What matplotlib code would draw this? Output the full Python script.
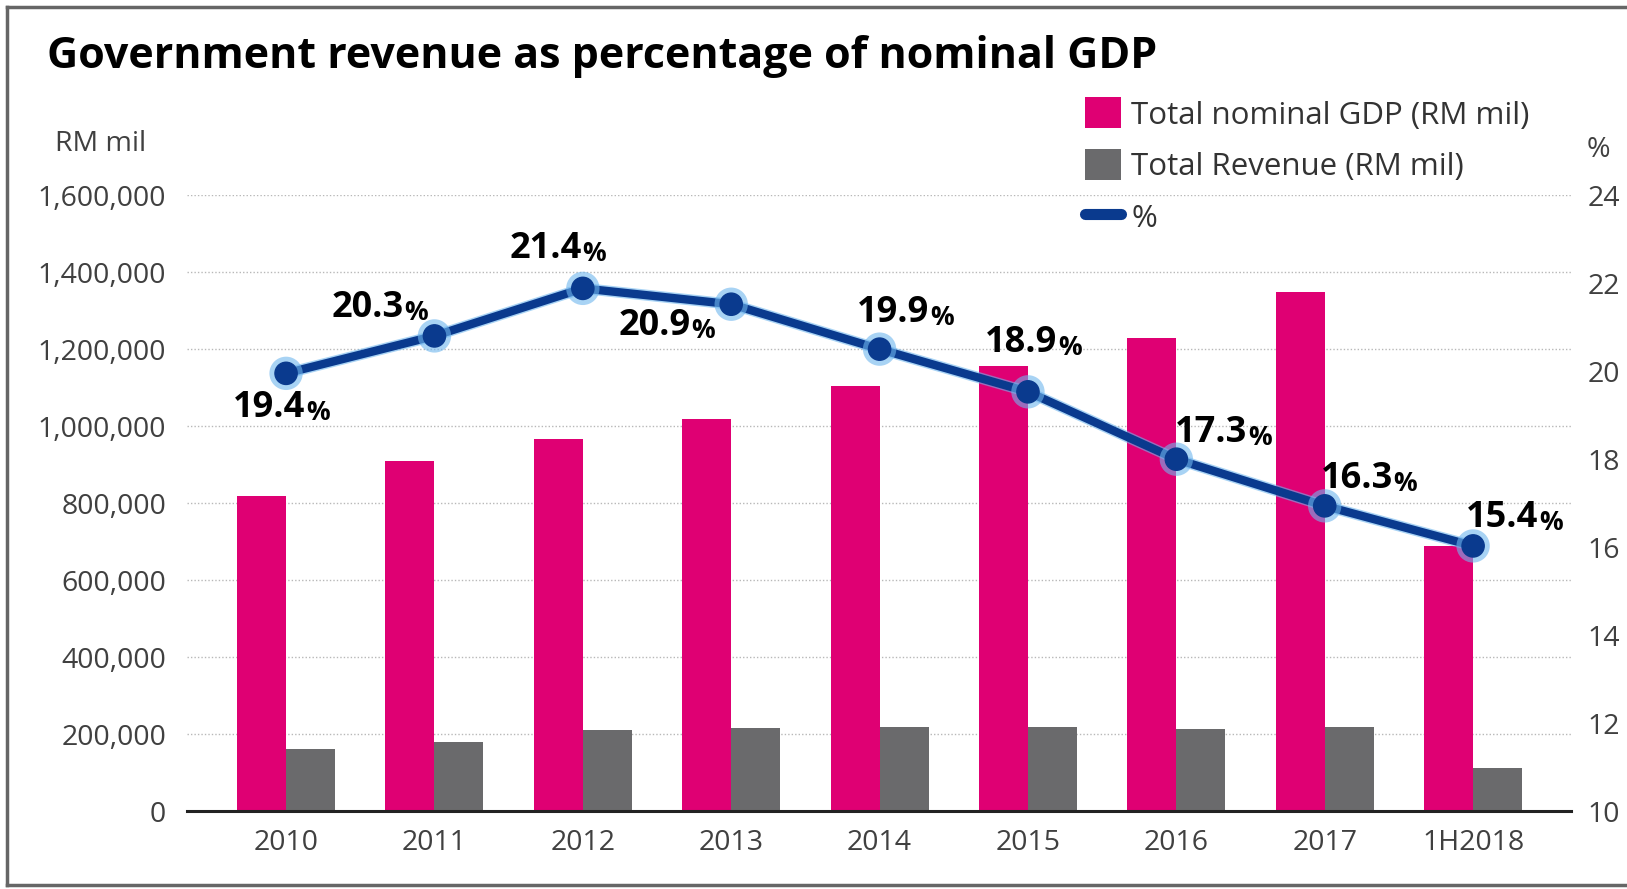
import numpy as np
import matplotlib
matplotlib.use("Agg")
import matplotlib.pyplot as plt
from matplotlib.lines import Line2D
from matplotlib.patches import Patch
import matplotlib.patheffects as pe

plt.rcParams['font.family'] = ['Open Sans', 'DejaVu Sans']

# data
years = ["2010", "2011", "2012", "2013", "2014", "2015", "2016", "2017", "1H2018"]
gdp = [819000, 910000, 967000, 1018000, 1103000, 1157000, 1228000, 1349000, 690000]
revenue = [163000, 180000, 210000, 216000, 220000, 220000, 214000, 218000, 112000]
pct_line = [19.95, 20.8, 21.88, 21.52, 20.5, 19.53, 18.0, 16.94, 16.03]
pct_labels = ["19.4", "20.3", "21.4", "20.9", "19.9", "18.9", "17.3", "16.3", "15.4"]
# label offsets (points) from each point
label_offsets = [(-38, -25), (-74, 20), (-53, 28), (-81, -16), (-16, 26),
                 (-31, 35), (-1, 19), (-3, 19), (-5, 20)]

pink = "#df0073"
grey = "#6a6a6c"
blue = "#0a3a8e"
text_grey = "#404040"
fs = 20.5

fig = plt.figure(figsize=(16.27, 8.89), dpi=100)
ax = fig.add_axes([0.115, 0.0873, 0.8506, 0.6933])
x = np.arange(len(years))
w = 0.33

ax.bar(x - w/2, gdp, width=w, color=pink, zorder=2)
ax.bar(x + w/2, revenue, width=w, color=grey, zorder=2)
ax.set_ylim(0, 1600000)
ax.set_xlim(-0.667, 8.66)
ax.set_yticks(np.arange(0, 1600001, 200000))
ax.set_yticklabels([f"{v:,}" for v in range(0, 1600001, 200000)])
ax.set_xticks(x)
ax.set_xticklabels(years)
ax.tick_params(axis='y', length=0, pad=15, labelsize=fs, labelcolor=text_grey)
ax.tick_params(axis='x', length=0, pad=13, labelsize=fs, labelcolor=text_grey)
ax.grid(axis='y', color="#b8b8b8", linestyle=(0, (1, 1.5)), linewidth=1, zorder=0)
for s in ['left', 'right', 'top']:
    ax.spines[s].set_visible(False)
ax.spines['bottom'].set_color("#222222")
ax.spines['bottom'].set_linewidth(2.2)
ax.spines['bottom'].set_zorder(3)

ax2 = ax.twinx()
ax2.set_ylim(10, 24)
ax2.set_yticks(np.arange(10, 25, 2))
ax2.tick_params(axis='y', length=0, pad=12, labelsize=fs, labelcolor=text_grey)
for s in ax2.spines.values():
    s.set_visible(False)

ax2.plot(x, pct_line, color=blue, linewidth=6, marker='o', markersize=16,
         solid_joinstyle='round', zorder=4,
         path_effects=[pe.Stroke(linewidth=8, foreground="#6fb6ee", alpha=0.6), pe.Normal()])

for i, (lab, off) in enumerate(zip(pct_labels, label_offsets)):
    t = ax2.annotate(lab, xy=(x[i], pct_line[i]), xytext=off, textcoords='offset points',
                     ha='left', va='center', fontsize=26, fontweight='bold', color='black', zorder=5)
    ax2.annotate('%', xy=(1, 0), xycoords=t, xytext=(0.5, 0), textcoords='offset points',
                 ha='left', va='bottom', fontsize=19, fontweight='bold', color='black', zorder=5)

# titles and axis captions
fig.text(0.029, 0.936, "Government revenue as percentage of nominal GDP", fontsize=31,
         fontweight='bold', color='black', ha='left', va='center')
fig.text(0.034, 0.838, "RM mil", fontsize=fs, color=text_grey, ha='left', va='center')
fig.text(0.975, 0.831, "%", fontsize=fs, color=text_grey, ha='left', va='center')

handles = [Patch(facecolor=pink), Patch(facecolor=grey),
           Line2D([], [], color=blue, linewidth=8, solid_capstyle='round')]
labels = ["Total nominal GDP (RM mil)", "Total Revenue (RM mil)", "%"]
fig.legend(handles, labels, loc='upper left', bbox_to_anchor=(0.657, 0.908), frameon=False,
           fontsize=22.5, handlelength=1.15, handleheight=1.15, handletextpad=0.35,
           labelspacing=0.6, borderpad=0, labelcolor="#333333")

# picture frame
fig.add_artist(Line2D([0.004, 0.004], [0.004, 0.992], transform=fig.transFigure, color="#666666", linewidth=2.5))
fig.add_artist(Line2D([0.004, 1.0], [0.992, 0.992], transform=fig.transFigure, color="#666666", linewidth=2.5))
fig.add_artist(Line2D([0.004, 1.0], [0.004, 0.004], transform=fig.transFigure, color="#666666", linewidth=2.5))

fig.savefig("out.png", dpi=100)
